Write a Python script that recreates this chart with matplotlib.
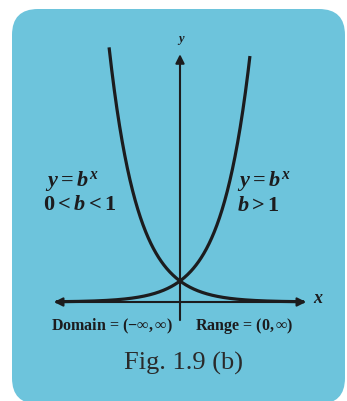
import numpy as np
import matplotlib
matplotlib.use("Agg")
import matplotlib.pyplot as plt
from matplotlib.patches import FancyBboxPatch

plt.rcParams['font.family'] = ['Liberation Serif', 'DejaVu Serif']
# bold serif math so the curve labels read heavy like printed text
plt.rcParams['mathtext.fontset'] = 'custom'
plt.rcParams['mathtext.rm'] = 'Liberation Serif:bold'
plt.rcParams['mathtext.it'] = 'Liberation Serif:italic:bold'
plt.rcParams['mathtext.bf'] = 'Liberation Serif:bold'

# bases of the two exponential curves
b_growth = 2.0
b_decay = 0.5

# x ranges drawn for each curve
x_growth = np.linspace(-6.3, 3.55, 300)
x_decay = np.linspace(-3.6, 6.3, 300)

labels_left = [r'$y = b^x$', r'$0 < b < 1$']
labels_right = [r'$y = b^x$', r'$b > 1$']
domain_text = r'Domain = $(-\infty, \infty)$'
range_text = r'Range = $(0, \infty)$'
caption = 'Fig. 1.9 (b)'

box_color = '#6dc4dc'
ink = '#1c1c1e'

fig = plt.figure(figsize=(3.47, 4.01), dpi=100)

# background panel (pixel units)
bg = fig.add_axes([0, 0, 1, 1])
bg.set_xlim(0, 347)
bg.set_ylim(401, 0)
bg.axis('off')
bg.add_patch(FancyBboxPatch((12, 9), 333, 395,
                            boxstyle='round,pad=0,rounding_size=26',
                            fc=box_color, ec='none'))

# graph axes
ax = fig.add_axes([0, 0, 1, 1])
ax.patch.set_alpha(0)
ax.set_xlim(-180 / 19.7, 167 / 19.7)
ax.set_ylim(-99 / 21, 302 / 21)
ax.axis('off')

# coordinate axes with arrowheads
ax.annotate('', xy=(6.4, 0), xytext=(-6.4, 0),
            arrowprops=dict(arrowstyle='<|-|>', color=ink, lw=1.5,
                            mutation_scale=13, shrinkA=0, shrinkB=0))
ax.annotate('', xy=(0, 11.8), xytext=(0, -0.86),
            arrowprops=dict(arrowstyle='-|>', color=ink, lw=1.5,
                            mutation_scale=13, shrinkA=0, shrinkB=0))

ax.plot(x_growth, b_growth ** x_growth, color=ink, lw=2.3, solid_capstyle='butt')
ax.plot(x_decay, b_decay ** x_decay, color=ink, lw=2.3, solid_capstyle='butt')

ax.text(7.0, 0.15, r'$x$', fontsize=13, color=ink, ha='center', va='center')
ax.text(0.05, 12.45, r'$y$', fontsize=9, color=ink, ha='center', va='center')

ax.text(-6.85, 5.75, labels_left[0], fontsize=16, color=ink, ha='left', va='center')
ax.text(-6.95, 4.6, labels_left[1], fontsize=16, color=ink, ha='left', va='center')
ax.text(2.9, 5.75, labels_right[0], fontsize=16, color=ink, ha='left', va='center')
ax.text(2.9, 4.55, labels_right[1], fontsize=16, color=ink, ha='left', va='center')

ax.text(-3.45, -1.15, domain_text, fontsize=11.5, fontweight='bold', color=ink,
        ha='center', va='center')
ax.text(3.25, -1.15, range_text, fontsize=11.5, fontweight='bold', color=ink,
        ha='center', va='center')

ax.text(0.2, -2.95, caption, fontsize=19, color='#2a2a2a', ha='center', va='center')

fig.savefig('out.png', dpi=100, facecolor='white')
